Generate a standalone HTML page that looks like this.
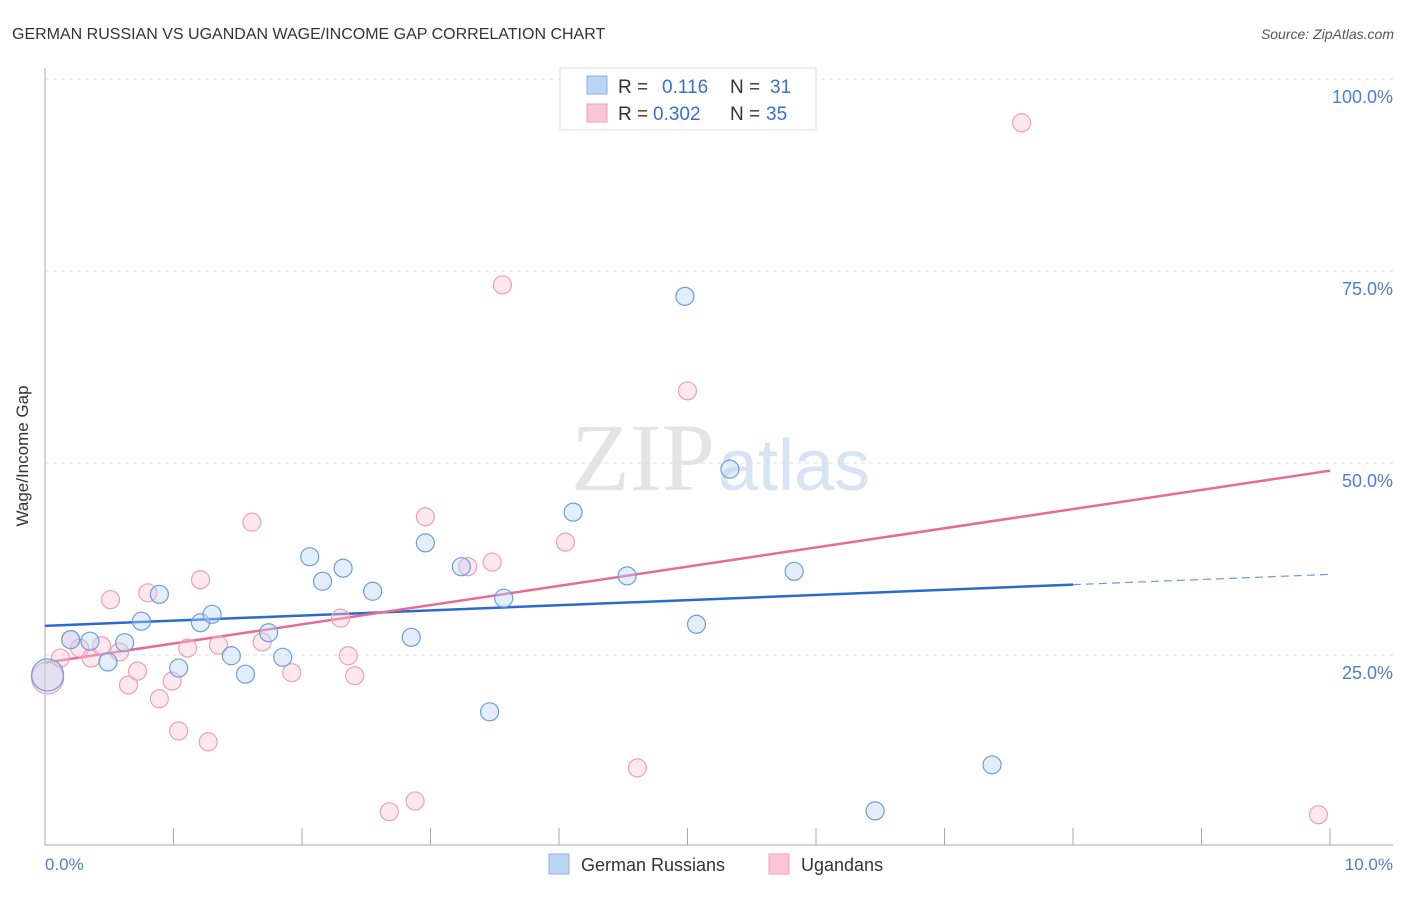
<!DOCTYPE html>
<html><head><meta charset="utf-8"><style>
body{margin:0;background:#fff;font-family:"Liberation Sans",sans-serif}
</style></head><body>
<svg width="1406" height="892" xmlns="http://www.w3.org/2000/svg" style="font-family:'Liberation Sans',sans-serif">
<text x="12" y="39" font-size="16" fill="#333">GERMAN RUSSIAN VS UGANDAN WAGE/INCOME GAP CORRELATION CHART</text>
<text x="1394" y="39" font-size="14" fill="#555" text-anchor="end" font-style="italic">Source: ZipAtlas.com</text>
<text x="715" y="490" font-size="96" fill="#e4e4e4" text-anchor="end" font-family="Liberation Serif">ZIP</text>
<text x="718" y="490" font-size="72" fill="#d6e4f4">atlas</text>
<g id="grid"></g>
<line x1="45" y1="68" x2="45" y2="845" stroke="#aaa"/>
<line x1="45" y1="845" x2="1393" y2="845" stroke="#aaa"/>
<g id="ticks"></g>
<text x="28" y="456" font-size="17" fill="#333" text-anchor="middle" transform="rotate(-90 28 456)">Wage/Income Gap</text>
<text x="45" y="870" font-size="17" fill="#4a7fd4">0.0%</text>
<text x="1393" y="870" font-size="17" fill="#4a7fd4" text-anchor="end">10.0%</text>
<g id="lines"></g>
<g id="pts"></g>
<g>
<rect x="560" y="68" width="256" height="62" fill="#fff" stroke="#ddd"/>
<rect x="587" y="76" width="20" height="18" fill="#bcd5f5" stroke="#8ab0e6"/>
<rect x="587" y="104" width="20" height="18" fill="#f9c6d4" stroke="#ee9fb6"/>
<text x="618" y="93" font-size="19" fill="#333">R = </text><text x="662" y="93" font-size="19" fill="#3a6fd0">0.116</text>
<text x="730" y="93" font-size="19" fill="#333">N = </text><text x="770" y="93" font-size="19" fill="#3a6fd0">31</text>
<text x="618" y="120" font-size="19" fill="#333">R = </text><text x="653" y="120" font-size="19" fill="#3a6fd0">0.302</text>
<text x="730" y="120" font-size="19" fill="#333">N = </text><text x="766" y="120" font-size="19" fill="#3a6fd0">35</text>
</g>
<g>
<rect x="549" y="854" width="20" height="20" fill="#bcd5f5" stroke="#8ab0e6"/>
<text x="581" y="871" font-size="18" fill="#333">German Russians</text>
<rect x="769" y="854" width="20" height="20" fill="#f9c6d4" stroke="#ee9fb6"/>
<text x="801" y="871" font-size="18" fill="#333">Ugandans</text>
</g>
</svg>
<script>
const yTicks=[25,50,75,100];
const yTickLabels=["25.0%","50.0%","75.0%","100.0%"];
const xTickVals=[0,1,2,3,4,5,6,7,8,9,10];
const blueX=[0.02,0.20,0.35,0.49,0.62,0.75,0.89,1.04,1.21,1.30,1.45,1.56,1.74,1.85,2.06,2.16,2.32,2.55,2.85,2.96,3.24,3.46,3.57,4.11,4.53,4.98,5.07,5.33,5.83,6.46,7.37];
const blueY=[22.4,27.0,26.8,24.1,26.6,29.4,32.9,23.3,29.2,30.3,24.9,22.5,27.9,24.7,37.8,34.6,36.3,33.3,27.3,39.6,36.5,17.6,32.4,43.6,35.3,71.7,29.0,49.2,35.9,4.7,10.7];
const pinkX=[0.02,0.12,0.20,0.27,0.36,0.44,0.51,0.58,0.65,0.72,0.80,0.89,0.99,1.04,1.11,1.21,1.27,1.35,1.61,1.69,1.92,2.30,2.36,2.41,2.68,2.88,2.96,3.29,3.48,3.56,4.05,4.61,5.00,7.60,9.91];
const pinkY=[22.0,24.6,27.0,25.9,24.6,26.2,32.2,25.4,21.1,22.9,33.1,19.3,21.6,15.1,25.9,34.8,13.7,26.3,42.3,26.7,22.7,29.8,24.9,22.3,4.6,6.0,43.0,36.5,37.1,73.2,39.7,10.3,59.4,94.3,4.2];
const blueTrend=[28.8,35.5]; const blueSolidEnd=8.0;
const pinkTrend=[24.0,49.0];
const NS="http://www.w3.org/2000/svg";
const sx=v=>45+v*128.5, sy=v=>847-v*7.68;
function mk(p,t,a){const e=document.createElementNS(NS,t);for(const k in a)e.setAttribute(k,a[k]);document.getElementById(p).appendChild(e);return e;}
yTicks.forEach((t,i)=>{
 const l=mk('grid','line',{x1:45,x2:1393,y1:sy(t),y2:sy(t),stroke:'#ddd','stroke-dasharray':'4,4'});
 
 
 const tx=mk('grid','text',{x:1393,y:sy(t)+24,'font-size':18,fill:'#4a7fd4','text-anchor':'end'});
 tx.textContent=yTickLabels[i];
 
 
});
xTickVals.forEach(v=>{
 const l=mk('ticks','line',{x1:sx(v),x2:sx(v),y1:828,y2:845,stroke:'#aaa'});
 
 
});
const bl=v=>blueTrend[0]+(blueTrend[1]-blueTrend[0])*v/10;
let e=mk('lines','line',{x1:sx(0),y1:sy(bl(0)),x2:sx(blueSolidEnd),y2:sy(bl(blueSolidEnd)),stroke:'#2a6ad0','stroke-width':2.5});


e=mk('lines','line',{x1:sx(blueSolidEnd),y1:sy(bl(blueSolidEnd)),x2:sx(10),y2:sy(bl(10)),stroke:'#6a9ae0','stroke-width':1.2,'stroke-dasharray':'8,5'});


e=mk('lines','line',{x1:sx(0),y1:sy(pinkTrend[0]),x2:sx(10),y2:sy(pinkTrend[1]),stroke:'#e86a96','stroke-width':2.5});


function pts(X,Y,f,s,n){X.forEach((x,i)=>{
 const c=mk('pts','circle',{cx:sx(x),cy:sy(Y[i]),r:i==0?16:9,fill:f,'fill-opacity':0.4,stroke:s,'stroke-width':1.2});
 
 
});}
pts(pinkX,pinkY,'#f9c6d4','#ee9fb6','ugandan-point');
pts(blueX,blueY,'#bcd5f5','#6b9de0','german-russian-point');
</script>
</body></html>
